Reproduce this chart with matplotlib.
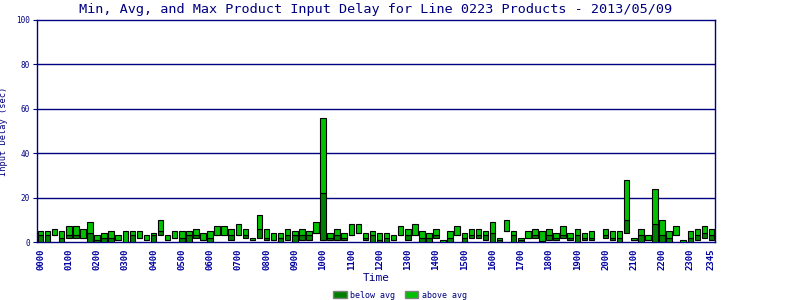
import numpy as np
import matplotlib
matplotlib.use("Agg")
from matplotlib import pyplot as plt
from matplotlib.patches import Patch

# 15-minute slots, 0000 .. 2345 (slot 79 has no data)
min_delay = [0, 0, 3, 0, 1.7, 1.7, 1.7, 0, 0, 0, 0, 0.9, 0, 0, 1.7, 0.9,
             0, 3, 0.9, 1.7, 0, 0, 1.7, 0.9, 0, 3, 3, 0.9, 3, 1.8, 0.9, 1.8,
             0.9, 0.9, 0, 0.9, 0, 0.9, 0.9, 3.9, 0.9, 0.9, 0.9, 0.9, 3, 3.9, 0.9, 0,
             0, 0, 0.9, 3, 0.9, 3, 0, 0, 1.8, 0, 0, 3, 0, 1.8, 1.8, 0.9,
             0, 0, 4.8, 0, 0, 1.8, 1.8, 0, 0.9, 0.9, 1.8, 0.9, 0, 0.9, 0.9, np.nan,
             1.8, 0.9, 0, 3.9, 0.9, 0, 0.9, 0, 0, 0, 3, 0, 0, 0.9, 1.8, 0.9]
avg_delay = [3, 3, 3, 1.8, 3, 3, 1.7, 3.9, 0.9, 1.8, 1.8, 0.9, 0, 3, 1.7, 0.9,
             3, 4.8, 0.9, 1.7, 1.8, 3, 3, 0.9, 1.8, 3, 3, 3, 3, 3, 0.9, 5.7,
             1.8, 0.9, 1.8, 3, 3, 3, 3, 3.9, 22, 1.8, 3, 1.8, 3, 3.9, 1.8, 3,
             0.9, 1.8, 0.9, 3, 3, 3, 1.8, 1.8, 3, 0, 1.8, 3, 1.8, 3, 3, 3,
             3.9, 0.9, 4.8, 3, 0.9, 1.8, 3, 0.5, 3, 1.8, 3, 1.8, 3, 1.8, 1.8, np.nan,
             3, 1.8, 1.8, 9.8, 0.9, 3, 0.9, 8, 3, 1.8, 3, 0, 1.8, 3, 3.9, 3]
max_delay = [4.8, 4.8, 5.7, 4.8, 7.1, 7.1, 5.7, 8.9, 3, 3.9, 4.8, 3, 4.8, 4.8, 4.8, 3,
             3.9, 9.8, 3, 4.8, 4.8, 4.8, 5.7, 3.9, 4.8, 7.1, 7.1, 5.7, 8, 5.7, 1.8, 12,
             5.7, 3.9, 3.9, 5.7, 4.8, 5.7, 4.8, 8.9, 55.7, 3.9, 5.7, 3.9, 8, 8, 3.9, 4.8,
             3.9, 3.9, 3, 7.1, 5.7, 8, 4.8, 3.9, 5.7, 0.9, 4.8, 7.1, 3.9, 5.7, 5.7, 4.8,
             8.9, 1.8, 9.8, 4.8, 1.8, 4.8, 5.7, 4.8, 5.7, 3.9, 7.1, 3.9, 5.7, 3.9, 4.8, np.nan,
             5.7, 4.8, 4.8, 27.8, 1.8, 5.7, 3, 23.7, 9.8, 4.8, 7.1, 0.9, 4.8, 5.7, 7.1, 5.7]
tick_pos = list(range(0, 96, 4)) + [95]
tick_labels = ["%02d00" % h for h in range(24)] + ["2345"]

navy = "#000080"
dark = "#008000"
bright = "#00c000"
mono = "DejaVu Sans Mono"

mins = np.array(min_delay)
avgs = np.array(avg_delay)
maxs = np.array(max_delay)
x = np.arange(len(mins))

fig = plt.figure(figsize=(8, 3), dpi=100)
ax = fig.add_axes([37/800, 1-242/300, 678/800, 222/300])

ax.bar(x, avgs - mins, bottom=mins, width=0.78, color=dark, edgecolor="black", linewidth=0.8, zorder=3)
ax.bar(x, maxs - avgs, bottom=avgs, width=0.78, color=bright, edgecolor="black", linewidth=0.8, zorder=3)

ax.set_xlim(-0.5, 95.5)
ax.set_ylim(0, 100)
ax.set_yticks([0, 20, 40, 60, 80, 100])
for y in [20, 40, 60, 80]:
    ax.axhline(y, color=navy, linewidth=1, zorder=1)
for s in ax.spines.values():
    s.set_color(navy)
    s.set_linewidth(1)

ax.set_xticks(tick_pos)
ax.set_xticklabels(tick_labels, rotation=90, fontfamily=mono, fontsize=6.5,
                   fontweight="bold", color="#0000a0")
ax.tick_params(axis="x", length=0, pad=5)
ax.tick_params(axis="y", length=3, color=navy, labelcolor=navy, labelsize=5.5, pad=2)
for t in ax.get_yticklabels():
    t.set_fontfamily(mono)

ax.set_title("Min, Avg, and Max Product Input Delay for Line 0223 Products - 2013/05/09",
             fontfamily=mono, fontsize=9.7, color=navy, pad=5)
ax.set_ylabel("Input Delay (sec)", fontfamily=mono, fontsize=6.2, color=navy)
ax.yaxis.set_label_coords(-29/678, 0.5)
ax.set_xlabel("Time", fontfamily=mono, fontsize=8, color=navy, va="center")
ax.xaxis.set_label_coords(0.5, -36/222)

handles = [Patch(facecolor=dark, edgecolor="gray", label="below avg"),
           Patch(facecolor=bright, edgecolor="gray", label="above avg")]
fig.legend(handles=handles, loc="center", bbox_to_anchor=(0.5, 1-295/300), ncol=2,
           frameon=False, prop={"family": mono, "size": 6}, labelcolor=navy,
           handlelength=1.6, handleheight=1.0, columnspacing=1.2, handletextpad=0.4)

fig.savefig("out.png", dpi=100)
